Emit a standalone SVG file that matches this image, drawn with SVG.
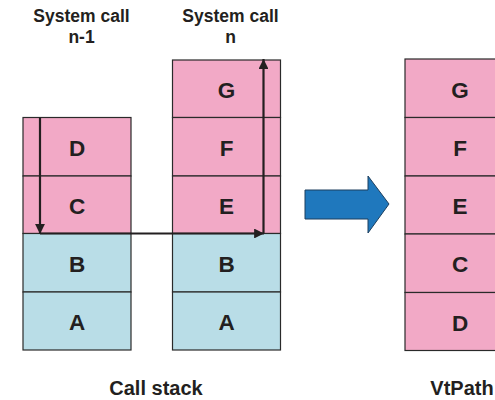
<svg xmlns="http://www.w3.org/2000/svg" width="495" height="400" viewBox="0 0 495 400">
<style>
.pink{fill:#f2a9c6;stroke:#2a2a2a;stroke-width:1.2}
.blue{fill:#b9dde7;stroke:#2a2a2a;stroke-width:1.2}
.lbl{font-family:"Liberation Sans",Arial,sans-serif;font-weight:bold;font-size:22.5px;fill:#231f20;text-anchor:middle}
.hdr{font-family:"Liberation Sans",Arial,sans-serif;font-weight:bold;font-size:17.5px;fill:#231f20;text-anchor:middle}
.cap{font-family:"Liberation Sans",Arial,sans-serif;font-weight:bold;font-size:20px;fill:#231f20;text-anchor:middle}
.ln{fill:none;stroke:#231f20;stroke-width:2.2}
</style>
<defs>
<marker id="ah" viewBox="0 0 10 10" refX="10" refY="5" markerWidth="4.5" markerHeight="4.5" orient="auto" markerUnits="strokeWidth">
<path d="M0,0 L10,5 L0,10 z" fill="#231f20"/>
</marker>
</defs>
<text class="hdr" x="81.5" y="22">System call</text>
<text class="hdr" x="81.5" y="43">n-1</text>
<text class="hdr" x="230.5" y="22">System call</text>
<text class="hdr" x="230.5" y="43">n</text>
<g id="stack-n-1">
<g id="s1-D"><rect class="pink" x="23" y="117.5" width="108" height="58.5"/><text class="lbl" x="77" y="156">D</text></g>
<g id="s1-C"><rect class="pink" x="23" y="176" width="108" height="57.5"/><text class="lbl" x="77" y="214">C</text></g>
<g id="s1-B"><rect class="blue" x="23" y="233.5" width="108" height="58.5"/><text class="lbl" x="77" y="272">B</text></g>
<g id="s1-A"><rect class="blue" x="23" y="292" width="108" height="58"/><text class="lbl" x="77" y="330">A</text></g>
</g>
<g id="stack-n">
<g id="s2-G"><rect class="pink" x="172.5" y="60" width="108" height="57.5"/><text class="lbl" x="226.5" y="98">G</text></g>
<g id="s2-F"><rect class="pink" x="172.5" y="117.5" width="108" height="58.5"/><text class="lbl" x="226.5" y="156">F</text></g>
<g id="s2-E"><rect class="pink" x="172.5" y="176" width="108" height="57.5"/><text class="lbl" x="226.5" y="214">E</text></g>
<g id="s2-B"><rect class="blue" x="172.5" y="233.5" width="108" height="58.5"/><text class="lbl" x="226.5" y="272">B</text></g>
<g id="s2-A"><rect class="blue" x="172.5" y="292" width="108" height="58"/><text class="lbl" x="226.5" y="330">A</text></g>
</g>
<g id="vtpath">
<g id="v-G"><rect class="pink" x="405" y="59" width="110" height="58.5"/><text class="lbl" x="460" y="98">G</text></g>
<g id="v-F"><rect class="pink" x="405" y="117.5" width="110" height="58.5"/><text class="lbl" x="460" y="156">F</text></g>
<g id="v-E"><rect class="pink" x="405" y="176" width="110" height="58"/><text class="lbl" x="460" y="214">E</text></g>
<g id="v-C"><rect class="pink" x="405" y="234" width="110" height="58.5"/><text class="lbl" x="460" y="272">C</text></g>
<g id="v-D"><rect class="pink" x="405" y="292.5" width="110" height="58"/><text class="lbl" x="460" y="331">D</text></g>
</g>
<g id="connectors">
<line class="ln" x1="40" y1="117.5" x2="40" y2="234" marker-end="url(#ah)"/>
<line class="ln" x1="40" y1="233.5" x2="264" y2="233.5" marker-end="url(#ah)"/>
<line class="ln" x1="263.5" y1="233.5" x2="263.5" y2="59" marker-end="url(#ah)"/>
<path id="big-arrow" d="M305,190 L368,190 L368,176 L389,204 L368,233 L368,219 L305,219 Z" fill="#1f78bd" stroke="#1d3f5e" stroke-width="1"/>
</g>
<text class="cap" x="156" y="395">Call stack</text>
<text class="cap" x="462" y="395">VtPath</text>
</svg>
